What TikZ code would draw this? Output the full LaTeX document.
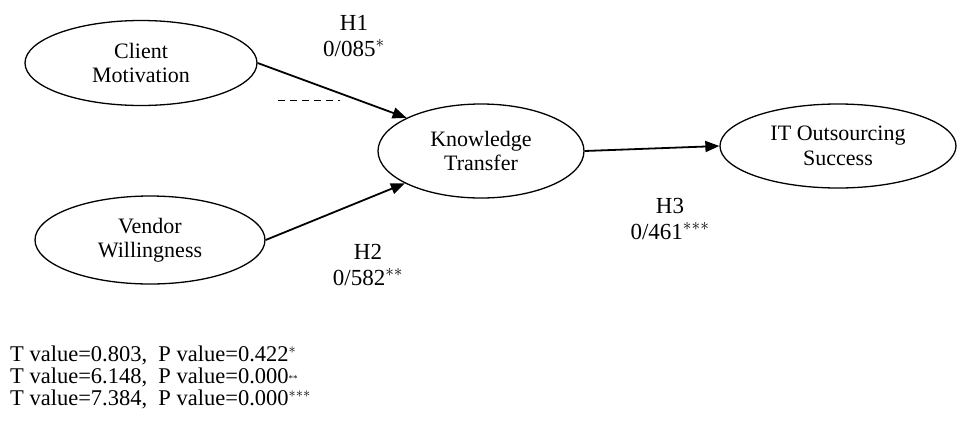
\documentclass[tikz,border=0pt]{standalone}
\usepackage{fontspec}
\setmainfont{Liberation Serif}
\usetikzlibrary{shapes.geometric,arrows.meta}
\tikzset{
  construct/.style={ellipse, draw, line width=1.3pt, inner sep=0pt, align=center,
    font=\fontsize{22}{24.5}\selectfont},
  path arrow/.style={line width=1.8pt, -{Triangle[length=14pt,width=11pt]}},
  hyp/.style={align=center, inner sep=0pt, font=\fontsize{23}{26}\selectfont},
  legendline/.style={anchor=base west, inner sep=0pt, font=\fontsize{22.5}{24}\selectfont},
}
\begin{document}
\begin{tikzpicture}[x=1pt,y=-1pt]
  \useasboundingbox (0,0) rectangle (958,421);

  % latent constructs
  \node[construct, minimum width=232pt, minimum height=85pt] (cm) at (141,63) {Client\\Motivation};
  \node[construct, minimum width=230pt, minimum height=88pt] (vw) at (150,240) {Vendor\\Willingness};
  \node[construct, minimum width=206pt, minimum height=94pt] (kt) at (481,151) {Knowledge\\Transfer};
  \node[construct, minimum width=236pt, minimum height=84pt] (it) at (838,146) {IT Outsourcing\\Success};

  % structural paths
  \draw[path arrow] (cm.east) -- (kt.156);
  \draw[path arrow] (vw.east) -- (kt.203);
  \draw[path arrow] (kt.east) -- (it.west);

  % path coefficients
  \node[hyp] (h1) at (354,36) {H1\\0/085$^{*}$};
  \node[hyp] (h2) at (368,265) {H2\\0/582$^{**}$};
  \node[hyp] (h3) at (670,219) {H3\\0/461$^{***}$};

  % leftover label fragment under the H1 path
  \draw[line width=1pt, dash pattern=on 7pt off 5pt] (278,100) -- (340,100);

  % significance legend
  \node[legendline] (l1) at (10,361) {T value=0.803,\ \ P value=0.422\smash{$^{*}$}};
  \node[legendline] (l2) at (10,383) {T value=6.148,\ \ P value=0.000\smash{\raisebox{2pt}{\small **}}};
  \node[legendline] (l3) at (10,405) {T value=7.384,\ \ P value=0.000\smash{$^{***}$}};
\end{tikzpicture}
\end{document}
